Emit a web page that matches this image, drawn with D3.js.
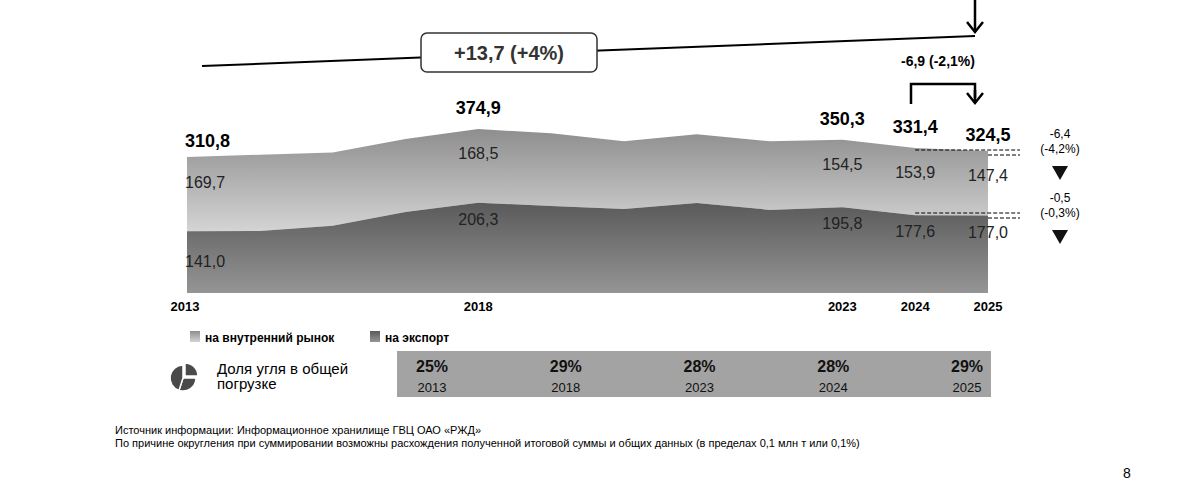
<!DOCTYPE html>
<html><head><meta charset="utf-8">
<script src="https://cdn.jsdelivr.net/npm/d3@7"></script>
<style>body{margin:0;background:#fff;font-family:"Liberation Sans",Arial,sans-serif}</style>
</head><body>
<svg id="chart" width="1178" height="500"></svg>
<script>
// slots on the time axis; only some carry a year label
var slotLabels = ["2013","","","","2018","","","","","2023","2024","2025"];
var exportVals = [141.0,142,154,185,206.3,199,192,206,190,195.8,177.6,177.0];
var domesticVals = [169.7,174,167,167,168.5,166,155,157,157,154.5,153.9,147.4];
var totalLabels = {0:"310,8",4:"374,9",9:"350,3",10:"331,4",11:"324,5"};
var shareYears = ["2013","2018","2023","2024","2025"];
var shareVals = ["25%","29%","28%","28%","29%"];

var svg = d3.select("#chart");
var x = d3.scalePoint().domain(d3.range(slotLabels.length)).range([187,988]);
var y = d3.scaleLinear().domain([0,400]).range([293,118]);

var defs = svg.append("defs");
function grad(id, c1, c2) {
	var g = defs.append("linearGradient").attr("id", id).attr("x1",0).attr("y1",0).attr("x2",0).attr("y2",1);
	g.append("stop").attr("offset","0%").attr("stop-color",c1);
	g.append("stop").attr("offset","100%").attr("stop-color",c2);
}
grad("gDom","#8e8e8e","#d4d4d4");
grad("gExp","#5a5a5a","#959595");

var data = slotLabels.map(function(l,i){ return {i:i, e:exportVals[i], d:domesticVals[i]}; });

svg.append("path").datum(data).attr("fill","url(#gDom)")
	.attr("d", d3.area().x(function(p){return x(p.i);}).y0(function(p){return y(p.e);}).y1(function(p){return y(p.e+p.d);}));
svg.append("path").datum(data).attr("fill","url(#gExp)")
	.attr("d", d3.area().x(function(p){return x(p.i);}).y0(y(0)).y1(function(p){return y(p.e);}));

// year labels
var xAxis = svg.append("g").attr("transform","translate(0,"+(y(0)+18)+")");
slotLabels.forEach(function(l,i){
	if (!l) return;
	xAxis.append("text").attr("x", x(i)+(i==0?-2:0)).attr("text-anchor","middle")
		.attr("font-size",13).attr("font-weight","bold").text(l);
});

// value labels
data.forEach(function(p){
	if (!slotLabels[p.i]) return;
	var dx = p.i==0 ? 0 : 0;
	var anchor = p.i==0 ? "start" : "middle";
	var xx = p.i==0 ? x(p.i)-28+28 : x(p.i);
	if (p.i==0) xx = x(p.i) - 2;
	svg.append("text").attr("x", xx).attr("y", y(p.e+p.d)+ (p.i==0?31:30)).attr("text-anchor",anchor)
		.attr("font-size",16).attr("fill","#222").text(String(p.d).replace(".",",").replace(/^(\d+)$/,"$1,0"));
	svg.append("text").attr("x", xx).attr("y", y(p.e)+ (p.i==0?36:22)).attr("text-anchor",anchor)
		.attr("font-size",16).attr("fill","#222").text(p.e.toFixed(1).replace(".",","));
	svg.append("text").attr("x", xx).attr("y", y(p.e+p.d)-(p.i==0?10:(p.i==11?10:15))).attr("text-anchor",anchor)
		.attr("font-size",18).attr("font-weight","bold").text(totalLabels[p.i]);
});

// dashed change lines on the right
[[150,155],[213,218]].forEach(function(r){
	r.forEach(function(yy,k){
		svg.append("line").attr("x1", k==0?x(10):x(11)).attr("x2",1020).attr("y1",yy).attr("y2",yy)
			.attr("stroke","#000").attr("stroke-dasharray","4,2");
	});
});
var side = [["-6,4","(-4,2%)",138],["-0,5","(-0,3%)",202]];
side.forEach(function(s){
	svg.append("text").attr("x",1060).attr("y",s[2]).attr("text-anchor","middle").attr("font-size",12).text(s[0]);
	svg.append("text").attr("x",1060).attr("y",s[2]+15).attr("text-anchor","middle").attr("font-size",12).text(s[1]);
	svg.append("path").attr("d","M1052,"+(s[2]+28)+"h16l-8,14z").attr("fill","#111");
});

// top trend line and box
svg.append("line").attr("x1",202).attr("y1",66).attr("x2",975).attr("y2",36).attr("stroke","#000").attr("stroke-width",2);
svg.append("rect").attr("x",421).attr("y",33).attr("width",176).attr("height",39).attr("rx",6)
	.attr("fill","#fff").attr("stroke","#333").attr("stroke-width",1.5);
svg.append("text").attr("x",509).attr("y",60).attr("text-anchor","middle").attr("font-size",20)
	.attr("font-weight","bold").attr("fill","#333").text("+13,7 (+4%)");
function arrowDown(xx, y1, y2) {
	svg.append("line").attr("x1",xx).attr("x2",xx).attr("y1",y1).attr("y2",y2).attr("stroke","#000").attr("stroke-width",2.5);
	svg.append("path").attr("d","M"+(xx-8)+","+(y2-10)+"L"+xx+","+y2+"L"+(xx+8)+","+(y2-10))
		.attr("fill","none").attr("stroke","#000").attr("stroke-width",2.5);
}
arrowDown(975, 0, 32);
svg.append("path").attr("d","M911,104V84H975V98").attr("fill","none").attr("stroke","#000").attr("stroke-width",2.5);
arrowDown(975, 90, 103);
svg.append("text").attr("x",938).attr("y",66).attr("text-anchor","middle").attr("font-size",14)
	.attr("font-weight","bold").text("-6,9 (-2,1%)");

// legend
var leg = [["url(#gDom)","на внутренний рынок",190],["url(#gExp)","на экспорт",370]];
leg.forEach(function(l){
	svg.append("rect").attr("x",l[2]).attr("y",331).attr("width",10).attr("height",11).attr("fill",l[0]);
	svg.append("text").attr("x",l[2]+15).attr("y",342).attr("font-size",12).attr("font-weight","bold").text(l[1]);
});

// share table
svg.append("rect").attr("x",397).attr("y",351).attr("width",594).attr("height",46).attr("fill","#a3a3a3");
var sx = d3.scalePoint().domain(shareYears).range([432,967]);
shareYears.forEach(function(yr,i){
	svg.append("text").attr("x",sx(yr)).attr("y",372).attr("text-anchor","middle").attr("font-size",16)
		.attr("font-weight","bold").attr("fill","#111").text(shareVals[i]);
	svg.append("text").attr("x",sx(yr)).attr("y",392).attr("text-anchor","middle").attr("font-size",13)
		.attr("fill","#111").text(yr);
});
var pie = d3.pie().sort(null)([25,30,45]);
var arc = d3.arc().innerRadius(0).outerRadius(13);
svg.append("g").attr("transform","translate(183,378)").selectAll("path").data(pie).enter().append("path")
	.attr("d",arc).attr("fill","#4a4a4a").attr("stroke","#fff").attr("stroke-width",1.5)
	.attr("transform",function(d,i){ return i==0 ? "translate(2,-2)" : ""; });
svg.append("text").attr("x",217).attr("y",374).attr("font-size",15).text("Доля угля в общей");
svg.append("text").attr("x",217).attr("y",389).attr("font-size",15).text("погрузке");

// footer
svg.append("text").attr("x",115).attr("y",434).attr("font-size",11).text("Источник информации: Информационное хранилище ГВЦ ОАО «РЖД»");
svg.append("text").attr("x",115).attr("y",447).attr("font-size",11).text("По причине округления при суммировании возможны расхождения полученной итоговой суммы и общих данных (в пределах 0,1 млн т или 0,1%)");
svg.append("text").attr("x",1127).attr("y",478).attr("font-size",14).attr("text-anchor","middle").text("8");
</script>
</body></html>
